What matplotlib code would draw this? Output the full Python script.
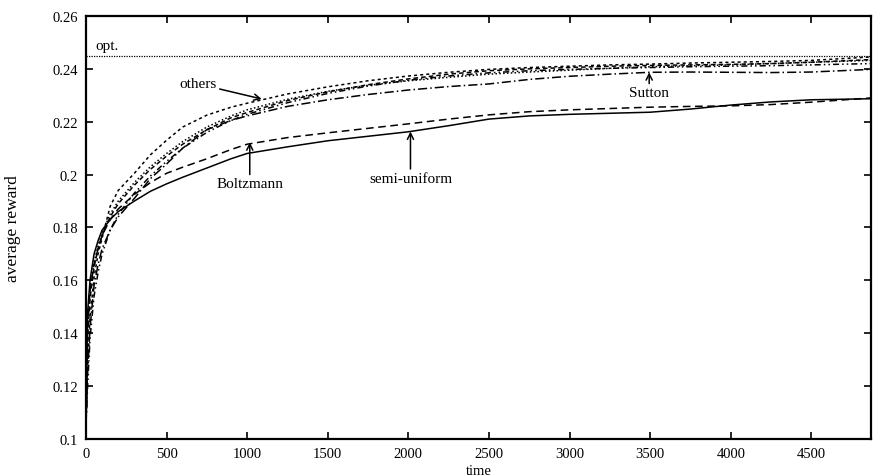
import matplotlib
matplotlib.use('Agg')
import matplotlib.pyplot as plt

plt.rcParams['font.family'] = ['Liberation Serif', 'DejaVu Serif']

# time steps
time = [0, 10, 25, 50, 75, 100, 150, 200, 300, 400, 500, 600, 750, 900, 1000, 1250, 1500, 1750,
        2000, 2250, 2500, 2750, 3000, 3250, 3500, 3750, 4000, 4250, 4500, 4870]

semi_uniform = [0.105, 0.148, 0.160, 0.170, 0.175, 0.179, 0.183, 0.186, 0.190, 0.1937, 0.1965, 0.1990,
                0.2025, 0.2060, 0.2080, 0.2105, 0.2128, 0.2145, 0.2162, 0.2185, 0.2210, 0.2222,
                0.2228, 0.2232, 0.2236, 0.2248, 0.2263, 0.2275, 0.2283, 0.2287]
boltzmann = [0.105, 0.142, 0.156, 0.166, 0.172, 0.177, 0.183, 0.187, 0.1925, 0.1970, 0.2005, 0.2028,
             0.2060, 0.2095, 0.2115, 0.2140, 0.2158, 0.2175, 0.2192, 0.2210, 0.2226, 0.2238,
             0.2245, 0.2250, 0.2255, 0.2258, 0.2260, 0.2265, 0.2274, 0.2290]
sutton = [0.105, 0.125, 0.142, 0.158, 0.166, 0.172, 0.179, 0.184, 0.191, 0.1985, 0.2040, 0.2100,
          0.2170, 0.2205, 0.2222, 0.2258, 0.2283, 0.2303, 0.2320, 0.2333, 0.2343, 0.2360,
          0.2372, 0.2380, 0.2387, 0.2388, 0.2387, 0.2386, 0.2388, 0.2398]
others_a = [0.105, 0.128, 0.146, 0.161, 0.170, 0.176, 0.188, 0.194, 0.2005, 0.2075, 0.2130, 0.2180,
            0.2225, 0.2255, 0.2270, 0.2305, 0.2332, 0.2355, 0.2373, 0.2387, 0.2398, 0.2405,
            0.2410, 0.2415, 0.2418, 0.2422, 0.2425, 0.2428, 0.2432, 0.2445]
others_b = [0.105, 0.138, 0.153, 0.165, 0.172, 0.177, 0.184, 0.189, 0.196, 0.2020, 0.2070, 0.2115,
            0.2170, 0.2215, 0.2235, 0.2280, 0.2313, 0.2340, 0.2362, 0.2380, 0.2393, 0.2400,
            0.2405, 0.2410, 0.2413, 0.2415, 0.2417, 0.2420, 0.2425, 0.2435]
others_c = [0.105, 0.120, 0.138, 0.154, 0.163, 0.170, 0.179, 0.185, 0.193, 0.1995, 0.2050, 0.2100,
            0.2160, 0.2205, 0.2228, 0.2272, 0.2307, 0.2335, 0.2357, 0.2373, 0.2385, 0.2393,
            0.2398, 0.2402, 0.2405, 0.2408, 0.2410, 0.2412, 0.2415, 0.2420]
others_d = [0.105, 0.143, 0.157, 0.167, 0.173, 0.178, 0.185, 0.190, 0.197, 0.2030, 0.2080, 0.2125,
            0.2180, 0.2222, 0.2245, 0.2285, 0.2315, 0.2338, 0.2355, 0.2368, 0.2380, 0.2388,
            0.2395, 0.2402, 0.2408, 0.2412, 0.2415, 0.2420, 0.2425, 0.2432]
opt = 0.245

fig = plt.figure(figsize=(8.73, 4.77), dpi=100)
ax = fig.add_axes([0.0985, 0.0776, 0.8992, 0.8868])

lw = 1.1
ax.axhline(opt, color='black', linestyle=(0, (1, 1)), linewidth=0.9)
ax.plot(time, semi_uniform, color='black', linestyle='-', linewidth=lw)
ax.plot(time, boltzmann, color='black', linestyle=(0, (5, 3)), linewidth=lw)
ax.plot(time, sutton, color='black', linestyle=(0, (6, 2, 1, 2)), linewidth=lw)
ax.plot(time, others_a, color='black', linestyle=(0, (2, 2)), linewidth=lw)
ax.plot(time, others_b, color='black', linestyle=(0, (3, 2)), linewidth=lw)
ax.plot(time, others_c, color='black', linestyle=(0, (4, 2, 1, 2, 1, 2)), linewidth=lw)
ax.plot(time, others_d, color='black', linestyle=(0, (1, 1.5)), linewidth=lw)

ax.set_xlim(0, 4870)
ax.set_ylim(0.1, 0.26)
ax.set_xticks(range(0, 4501, 500))
ax.set_yticks([0.1, 0.12, 0.14, 0.16, 0.18, 0.2, 0.22, 0.24, 0.26])
ax.set_yticklabels(['0.1', '0.12', '0.14', '0.16', '0.18', '0.2', '0.22', '0.24', '0.26'])
ax.tick_params(direction='in', length=5, width=1.2, top=True, right=True, labelsize=10.5, pad=6)
for s in ax.spines.values():
    s.set_linewidth(1.6)

ax.set_xlabel('time', fontsize=10.5, labelpad=2.5)
ax.set_ylabel('average reward', fontsize=12.5)
ax.yaxis.set_label_coords(-0.083, 0.5)

tsize = 11
ax.text(60, 0.2462, 'opt.', fontsize=tsize, ha='left', va='bottom')
arrow = dict(arrowstyle='->', color='black', linewidth=1.1, shrinkA=0, shrinkB=0)
ax.annotate('others', xy=(1090, 0.2286), xytext=(812, 0.2343), fontsize=tsize,
            ha='right', va='center', arrowprops=arrow)
ax.annotate('Boltzmann', xy=(1016, 0.2122), xytext=(1016, 0.1965), fontsize=tsize,
            ha='center', va='center', arrowprops=arrow)
ax.annotate('semi-uniform', xy=(2013, 0.2163), xytext=(2013, 0.1986), fontsize=tsize,
            ha='center', va='center', arrowprops=arrow)
ax.annotate('Sutton', xy=(3494, 0.2387), xytext=(3494, 0.2309), fontsize=tsize,
            ha='center', va='center', arrowprops=arrow)

plt.savefig('out.png', dpi=100)
